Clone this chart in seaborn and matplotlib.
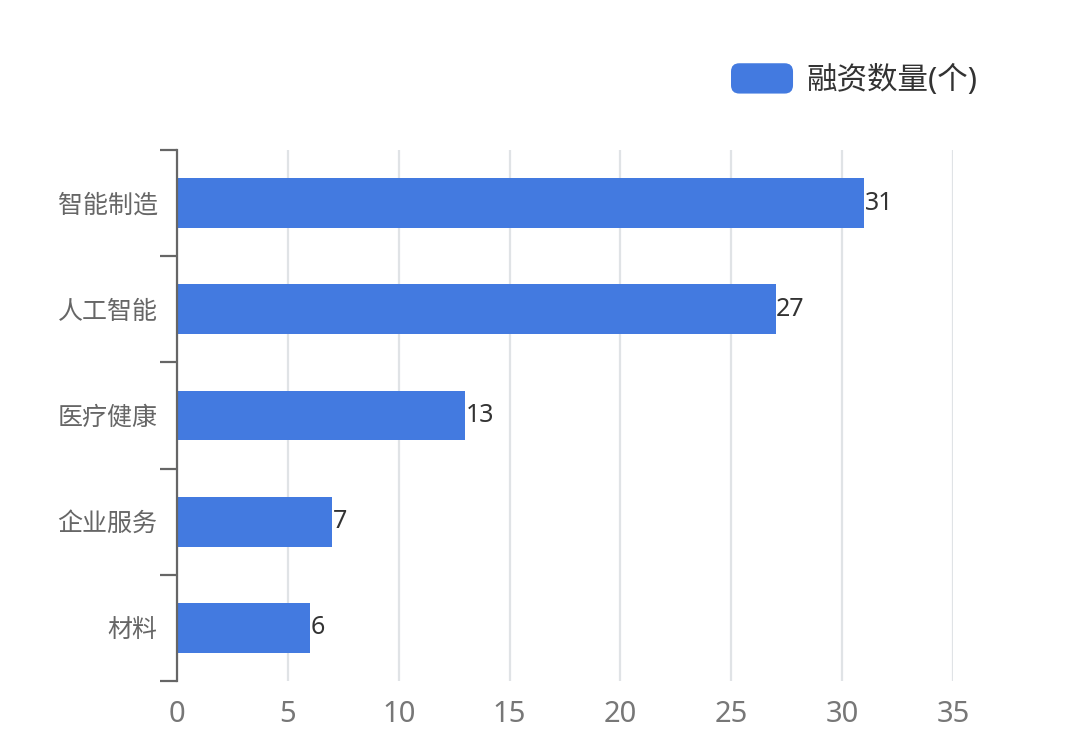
import pandas as pd
import matplotlib
matplotlib.use('Agg')
import matplotlib.pyplot as plt
import seaborn as sns
from matplotlib.patches import FancyBboxPatch, Patch
from matplotlib.legend_handler import HandlerPatch

# data
categories = ['智能制造', '人工智能', '医疗健康', '企业服务', '材料']
counts = [31, 27, 13, 7, 6]
series_name = '融资数量(个)'
x_ticks = [0, 5, 10, 15, 20, 25, 30, 35]

bar_color = '#437AE0'

sns.set_theme(style='white')
plt.rcParams['font.family'] = ['Noto Sans', 'Noto Sans CJK SC', 'DejaVu Sans']

df = pd.DataFrame({'category': categories, 'count': counts})

fig = plt.figure(figsize=(10.8, 7.53), dpi=100)
ax = fig.add_axes([177 / 1080, 1 - 681 / 753, 776 / 1080, 531 / 753])

sns.barplot(data=df, x='count', y='category', color=bar_color,
            width=0.47, saturation=1, linewidth=0, ax=ax, zorder=3)

ax.set_xlim(0, 35)
ax.set_ylim(len(categories) - 0.5, -0.5)
ax.set_xticks(x_ticks)
ax.set_xlabel('')
ax.set_ylabel('')

# vertical grid lines
ax.grid(axis='x', color='#e0e3e6', linewidth=1.6, zorder=0)
ax.grid(axis='y', visible=False)

for s in ['top', 'right', 'bottom']:
    ax.spines[s].set_visible(False)
ax.spines['left'].set_color('#666666')
ax.spines['left'].set_linewidth(1.6)
ax.spines['left'].set_zorder(5)

# ticks at category boundaries on the y axis
ax.set_yticks(range(len(categories)))
ax.set_yticklabels(categories)
ax.set_yticks([i - 0.5 for i in range(len(categories) + 1)], minor=True)
ax.tick_params(axis='y', which='major', length=0, pad=14, labelsize=18, labelcolor='#666666')
ax.tick_params(axis='y', which='minor', length=12, width=1.6, color='#666666', left=True)
ax.tick_params(axis='x', length=0, pad=14, labelsize=21, labelcolor='#777777')

# value labels
for i, v in enumerate(counts):
    ax.text(v + 0.02, i, str(v), va='center', ha='left', fontsize=18, color='#333333', zorder=4)


class RoundHandler(HandlerPatch):
    def create_artists(self, legend, orig_handle, xdescent, ydescent, width, height, fontsize, trans):
        p = FancyBboxPatch((-xdescent, -ydescent), width, height,
                           boxstyle='round,pad=0,rounding_size=6',
                           facecolor=bar_color, edgecolor='none', transform=trans)
        return [p]


handle = Patch(facecolor=bar_color, label=series_name)
fig.legend(handles=[handle], handler_map={Patch: RoundHandler()},
           loc='center left', bbox_to_anchor=(731 / 1080, 1 - 79.5 / 753),
           frameon=False, fontsize=22, labelcolor='#333333',
           handlelength=2.03, handleheight=1.15, handletextpad=0.45,
           borderpad=0, borderaxespad=0)

fig.savefig('out.png', dpi=100, facecolor='white')
